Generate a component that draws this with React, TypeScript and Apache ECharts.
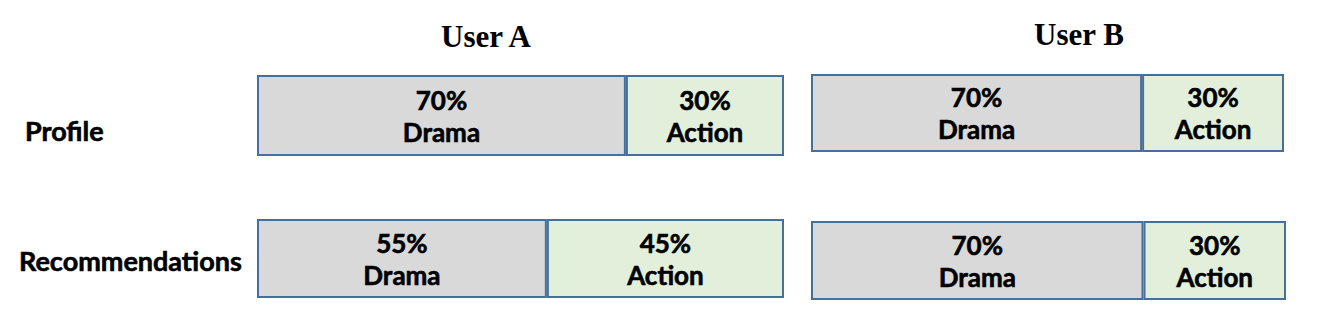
import React, { useEffect, useRef } from "react";
import * as echarts from "echarts";

const users = ["User A", "User B"];
const rows = ["Profile", "Recommendations"];
const genres = ["Drama", "Action"];
// per user, per row
const userADrama = [70, 55];
const userAAction = [30, 45];
const userBDrama = [70, 70];
const userBAction = [30, 30];

const FONT = "Lato, 'Open Sans', sans-serif";
const BORDER = "#46709A";
const FILLS = ["#D9D9D9", "#E2EFDA"];

// layout: [left, top, width, height] for each user/row grid
const gridBoxes = [
  [257, 75, 527, 81],
  [257, 219, 527, 79],
  [811, 74, 473, 78],
  [811, 221, 475, 79],
];
const titleCenters = [[481, 16], [1074, 14]];
const rowLabelPos = [[25, 130], [19, 260]];

export default function App() {
  const ref = useRef<HTMLDivElement>(null);
  useEffect(() => {
    if (!ref.current) return;
    const chart = echarts.init(ref.current, undefined, { renderer: "svg" });
    const values = [
      [userADrama, userAAction],
      [userBDrama, userBAction],
    ];
    const grids: any[] = [];
    const xAxes: any[] = [];
    const yAxes: any[] = [];
    const series: any[] = [];
    let gi = 0;
    users.forEach((u, ui) => {
      rows.forEach((r, ri) => {
        const [l, t, w, h] = gridBoxes[gi];
        grids.push({ left: l, top: t, width: w, height: h });
        xAxes.push({
          gridIndex: gi, type: "value", min: 0, max: 100, show: false,
        });
        yAxes.push({
          gridIndex: gi, type: "category", data: [r], show: false,
        });
        genres.forEach((g, k) => {
          series.push({
            type: "bar",
            name: g,
            stack: "s" + gi,
            xAxisIndex: gi,
            yAxisIndex: gi,
            barWidth: "100%",
            barCategoryGap: 0,
            data: [values[ui][k][ri]],
            itemStyle: { color: FILLS[k], borderColor: BORDER, borderWidth: 2 },
            label: {
              show: true,
              position: "inside",
              formatter: (p: any) => `${p.value}%\n${p.seriesName}`,
              fontFamily: FONT,
              fontWeight: "bold",
              fontSize: 26,
              lineHeight: 32,
              color: "#000",
              textBorderColor: "#000",
              textBorderWidth: 0.6,
            },
          });
        });
        gi++;
      });
    });
    chart.setOption({
      animation: false,
      title: users.map((u, i) => ({
        text: u,
        left: titleCenters[i][0],
        top: titleCenters[i][1],
        textAlign: "center",
        textStyle: {
          fontFamily: "Liberation Serif",
          fontWeight: "bold",
          fontSize: 31,
          color: "#000",
        },
      })),
      grid: grids,
      xAxis: xAxes,
      yAxis: yAxes,
      series,
      graphic: rows.map((r, i) => ({
        type: "text",
        x: rowLabelPos[i][0],
        y: rowLabelPos[i][1],
        style: {
          text: r,
          fontFamily: FONT,
          fontWeight: "bold",
          fontSize: 27,
          fill: "#000",
          stroke: "#000",
          lineWidth: 0.6,
          verticalAlign: "middle",
        },
      })),
    });
    return () => chart.dispose();
  }, []);
  return (
    <div
      ref={ref}
      style={{ position: "absolute", left: 0, top: 0, width: 1334, height: 336, background: "#fff" }}
    />
  );
}
